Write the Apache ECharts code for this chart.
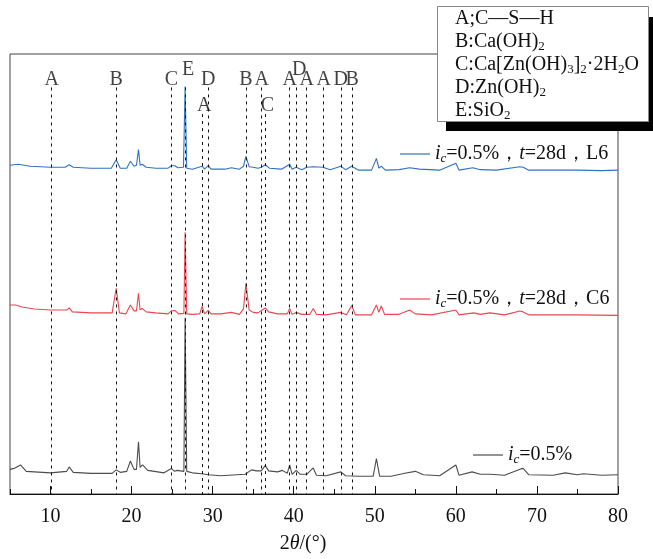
<!DOCTYPE html>
<html><head><meta charset="utf-8">
<script src="https://cdn.jsdelivr.net/npm/echarts@6/dist/echarts.min.js"></script>
<style>html,body{margin:0;padding:0;background:#fff}#c{width:653px;height:559px}</style>
</head><body><div id="c"></div>
<script>
// ---- data ----
const xTicks = [10, 20, 30, 40, 50, 60, 70, 80];
const xMinorTicks = [5, 15, 25, 35, 45, 55, 65, 75];

const peakPos   = [10.15, 18.1, 24.9, 26.6, 28.7, 29.45, 34.1, 36.05, 36.5, 39.5, 40.3, 41.6, 43.7, 45.8, 47.2];
const peakPhase = ['A', 'B', 'C', 'E', 'A', 'D', 'B', 'A', 'C', 'A', 'D', 'A', 'A', 'D', 'B'];
const peakTier  = [0, 0, 0, 1, 2, 0, 0, 0, 2, 0, 1, 0, 0, 0, 0];

const phaseKey = [
  '{n|A;C—S—H}',
  '{n|B:Ca(OH)}{s|2}',
  '{n|C:Ca[Zn(OH)}{s|3}{n|]}{s|2}{n|·2H}{s|2}{n|O}',
  '{n|D:Zn(OH)}{s|2}',
  '{n|E:SiO}{s|2}'
];

const seriesNames = ['L6', 'C6', 'Ref'];
const seriesLegend = [
  '{i|i}{c|c}{n|=0.5%，}{i|t}{n|=28d，L6}',
  '{i|i}{c|c}{n|=0.5%，}{i|t}{n|=28d，C6}',
  '{i|i}{c|c}{n|=0.5%}'
];

const patternL6 = [
  [5,334],[6,335],[7.5,333],[10,332],[11.8,332],[12.3,334.5],[12.8,332],[15,331],[17.5,331],
  [18.1,339.5],[18.6,331],[19.4,331],[19.85,338],[20.3,333],[20.6,334],[20.85,350],[21.05,334],
  [21.3,335],[21.8,332],[23,331],[24.5,331],[24.9,333.5],[25.1,332],[25.35,333.5],[25.7,331.5],
  [26.4,332],[26.6,414],[26.8,331],[27.5,330],[28.7,333],[29,330],[29.45,333.5],[29.8,330],
  [31.5,330],[32.3,331.5],[33.3,330],[33.8,333],[34.1,343],[34.5,332.5],[35,332],[35.6,331],
  [36,332],[36.5,334.5],[37,331],[38.5,330],[39.5,335],[39.8,330],[40.3,332],[41,329.5],
  [41.6,332],[42.4,332.5],[43.6,332],[44.5,329.5],[45.8,333],[46.4,329.5],[47.15,333],[48,329],
  [49.6,329],[50.2,341],[50.5,331],[50.8,333],[51.3,329],[53,329.5],[54.3,331.5],[55.5,330],
  [58,329],[60,336],[60.4,329],[62.1,331.5],[63,329.5],[65,329],[67.9,332.5],[68.3,332],
  [69,329],[72,329],[75,329],[78,328.5],[80,329]
];

const patternC6 = [
  [5,192],[5.7,192],[6.5,190],[8,188],[10,187],[12,187],[12.3,189],[12.7,185],[15,184],[17.6,184],
  [18.1,209],[18.5,184],[19.3,183],[19.85,192],[20.3,186],[20.6,186],[20.85,204],[21.05,187],
  [21.3,188.5],[21.8,185],[23,184],[24.5,183],[24.9,186],[25.1,184],[25.35,186.5],[25.8,183],
  [26.45,183.5],[26.6,266],[26.8,183],[27.5,182.5],[28.4,183],[28.7,190.5],[29,183],[29.45,186.5],
  [29.8,183],[31,183],[32.3,184.5],[33.3,182.5],[33.8,188],[34.1,214],[34.5,187],[35,184.5],
  [35.6,184],[36.1,187],[36.5,189],[36.9,185],[38,183],[39.2,183],[39.5,188.5],[39.8,182.5],
  [40.3,184.5],[41,182.5],[42,182.5],[42.4,188.5],[42.8,182.5],[44,182],[45.8,184.5],[46.5,182],
  [47.15,191.5],[47.6,182],[49.6,182],[50.2,192],[50.5,184.5],[50.8,191],[51.2,182.5],[53,182.5],
  [54.3,187],[55,183],[57,182],[60,187],[60.4,182],[62.2,184],[63,182.5],[64.2,184],[66,182],
  [67.9,186],[68.3,185],[69,182],[72,182],[75,182],[80,181.5]
];

const patternRef = [
  [5,25],[5.5,26],[6.3,29.5],[7,23],[10,21.5],[12,23],[12.3,27.5],[12.8,22],[15,21],[17.6,21],
  [18.1,24.5],[18.6,22],[19.4,23],[19.85,33.5],[20.3,25],[20.6,25],[20.85,53],[21.05,27],
  [21.35,29.5],[22,24],[24,21.5],[24.9,26],[25.3,23],[25.6,24],[26.45,23],[26.6,179],[26.8,23],
  [27.5,21.5],[28.7,20.5],[29.45,19.5],[31,18.5],[33,19.5],[34,20],[34.8,24.5],[35.4,23.5],
  [36,23.5],[36.5,29],[36.9,23.5],[38,22.5],[38.6,24],[39.2,21],[39.5,29.5],[39.8,20],[40.3,24],
  [40.8,20],[41.6,20],[42.4,26.5],[42.8,19],[44,18.5],[45.8,22.5],[46.4,18.5],[48,18],[49.8,18],
  [50.2,36],[50.6,18],[52,18],[53.7,21],[55,23],[56,19.5],[58,18.5],[60,29.5],[60.4,19],
  [62,22.5],[63,20],[64.2,20],[66,19],[68,25.5],[68.3,26],[69,19.5],[72,19],[73.5,21.5],
  [75,19.5],[75.7,20.5],[78,19],[80,19.5]
];

// ---- styling / layout ----
const SERIF = '"Times New Roman", "Liberation Serif", serif';
const colors = ['#2f72c4', '#ea4650', '#4d4d4d'];
const tierY = [421, 431, 394];          // label heights (y-axis units)
const tierLineTop = [413, 413, 386];     // where dashed guide starts
const tierOffset = [[0, 0], [3, 0], [2, 0]];
const legendPos = [
  {left: 395, top: 139},
  {left: 395, top: 284},
  {left: 468, top: 440}
];

const legendRich = {
  n: {fontFamily: SERIF, fontSize: 20, color: '#111', lineHeight: 22},
  i: {fontFamily: SERIF, fontSize: 20, fontStyle: 'italic', color: '#111', lineHeight: 22},
  c: {fontFamily: SERIF, fontSize: 13, fontStyle: 'italic', color: '#111', lineHeight: 8, verticalAlign: 'bottom'}
};

const series = [patternL6, patternC6, patternRef].map((d, k) => ({
  name: seriesNames[k], type: 'line', data: d, showSymbol: false, symbol: 'none',
  lineStyle: {color: colors[k], width: 1.1}, itemStyle: {color: colors[k]},
  xAxisIndex: 0, yAxisIndex: 0, z: 3, silent: true
}));

series.push({
  name: 'peaks', type: 'scatter', symbolSize: 0, silent: true, z: 4,
  data: peakPos.map((x, i) => ({
    value: [x, tierY[peakTier[i]]],
    label: {show: true, position: 'inside', formatter: peakPhase[i], offset: tierOffset[peakTier[i]]}
  })),
  label: {fontFamily: SERIF, fontSize: 20, color: '#111'},
  markLine: {
    silent: true, symbol: 'none', animation: false,
    label: {show: false},
    lineStyle: {type: [3, 4], color: '#111', width: 1},
    data: peakPos.map((x, i) => [{coord: [x, tierLineTop[peakTier[i]]]}, {coord: [x, 0]}])
  }
});

const legends = seriesNames.map((nm, k) => ({
  show: true, data: [nm], left: legendPos[k].left, top: legendPos[k].top,
  icon: 'rect', itemWidth: 30, itemHeight: 1.2, selectedMode: false,
  formatter: () => seriesLegend[k],
  textStyle: {rich: legendRich, fontFamily: SERIF, fontSize: 20}
}));

const boxRich = {
  n: {fontFamily: SERIF, fontSize: 20, color: '#111', lineHeight: 22},
  s: {fontFamily: SERIF, fontSize: 13, color: '#111', lineHeight: 8, verticalAlign: 'bottom'}
};

const chart = echarts.init(document.getElementById('c'), null, {renderer: 'canvas'});
chart.setOption({
  animation: false,
  backgroundColor: '#fff',
  grid: {left: 10, right: 35, top: 54, bottom: 58, show: true, borderColor: '#444', borderWidth: 1},
  legend: legends,
  xAxis: [
    {
      type: 'value', min: 5, max: 80,
      name: '{n|2}{i|θ}{n|/(°)}', nameLocation: 'middle', nameGap: 40,
      nameTextStyle: {padding: [0, 22, 0, 0], rich: {
        n: {fontFamily: SERIF, fontSize: 20, color: '#111'},
        i: {fontFamily: SERIF, fontSize: 20, fontStyle: 'italic', color: '#111'}
      }},
      axisLine: {show: true, lineStyle: {color: '#111', width: 1}},
      axisTick: {show: true, inside: true, length: 8, customValues: xTicks, lineStyle: {color: '#111'}},
      axisLabel: {customValues: xTicks, fontFamily: SERIF, fontSize: 20, color: '#111', margin: 13},
      splitLine: {show: false}
    },
    {
      type: 'value', min: 5, max: 80, position: 'bottom',
      axisLine: {show: false},
      axisTick: {show: true, inside: true, length: 5, customValues: xMinorTicks, lineStyle: {color: '#111'}},
      axisLabel: {show: false}, splitLine: {show: false}
    }
  ],
  yAxis: {type: 'value', min: 0, max: 447, show: false},
  series: series,
  graphic: [
    {type: 'rect', left: 446, top: 17, z: 100, shape: {width: 212, height: 114}, style: {fill: '#000'}},
    {type: 'rect', left: 437, top: 6, z: 101, shape: {width: 211, height: 115}, style: {fill: '#fff', stroke: '#888', lineWidth: 1}},
    ...phaseKey.map((t, i) => ({
      type: 'text', left: 455, top: 9 + i * 23, z: 102,
      style: {text: t, rich: boxRich, fill: '#111'}
    }))
  ]
});
</script>
</body></html>
